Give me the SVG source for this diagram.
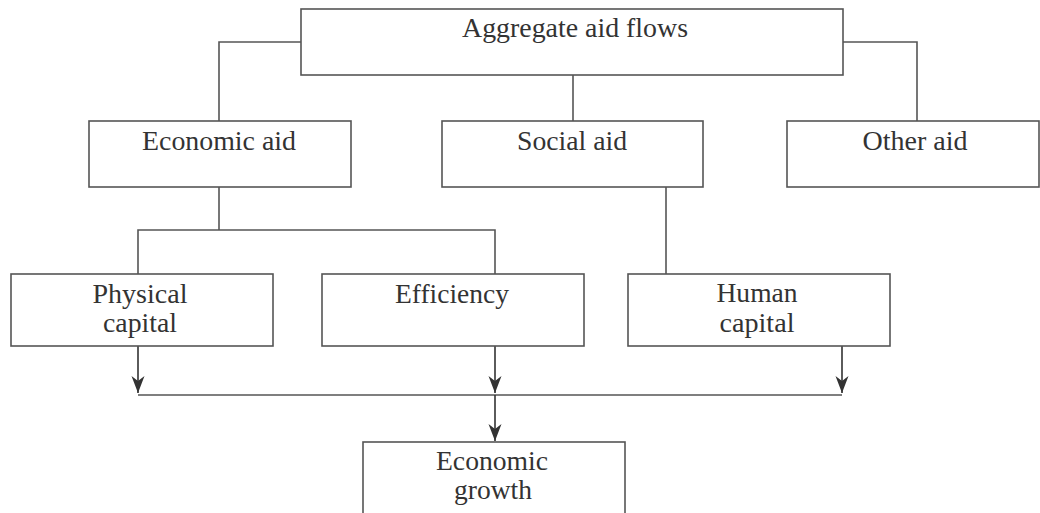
<svg xmlns="http://www.w3.org/2000/svg" width="1040" height="513" viewBox="0 0 1040 513">
<defs>
<style>
.box{fill:#fff;stroke:#555;stroke-width:1.6}
.t{font-family:"Liberation Serif",Tinos,"Times New Roman",serif;font-size:27px;fill:#333;text-anchor:middle}
.c{fill:none;stroke:#555;stroke-width:1.6}
.a{fill:none;stroke:#333;stroke-width:1.6;marker-end:url(#arr)}
</style>
<marker id="arr" viewBox="-1 -8 19 16" refX="17" refY="0" markerWidth="19" markerHeight="16" markerUnits="userSpaceOnUse" orient="auto">
<path d="M0,-6.5 L17,0 L0,6.5 L5,0 Z" fill="#333"/>
</marker>
</defs>
<rect width="1040" height="513" fill="#fff"/>
<g id="connectors">
<polyline class="c" points="301,42 219,42 219,121"/>
<polyline class="c" points="843,42 917,42 917,121"/>
<line class="c" x1="573" y1="75" x2="573" y2="121"/>
<line class="c" x1="219" y1="187" x2="219" y2="230"/>
<polyline class="c" points="138,274 138,230 495,230 495,274"/>
<line class="c" x1="666" y1="187" x2="666" y2="274"/>
<line class="a" x1="138" y1="346" x2="138" y2="393"/>
<line class="a" x1="495" y1="346" x2="495" y2="393"/>
<line class="a" x1="842" y1="346" x2="842" y2="393"/>
<line class="c" x1="138" y1="395" x2="842" y2="395"/>
<line class="a" x1="495" y1="395" x2="495" y2="441"/>
</g>
<g id="aggregate">
<rect class="box" x="301" y="9" width="542" height="66"/>
<text class="t" x="575" y="37" textLength="226" lengthAdjust="spacingAndGlyphs">Aggregate aid flows</text>
</g>
<g id="economic-aid">
<rect class="box" x="89" y="121" width="262" height="66"/>
<text class="t" x="219" y="150" textLength="154" lengthAdjust="spacingAndGlyphs">Economic aid</text>
</g>
<g id="social-aid">
<rect class="box" x="442" y="121" width="261" height="66"/>
<text class="t" x="572" y="150" textLength="110" lengthAdjust="spacingAndGlyphs">Social aid</text>
</g>
<g id="other-aid">
<rect class="box" x="787" y="121" width="252" height="66"/>
<text class="t" x="915" y="150" textLength="105" lengthAdjust="spacingAndGlyphs">Other aid</text>
</g>
<g id="physical-capital">
<rect class="box" x="11" y="274" width="262" height="72"/>
<text class="t" x="140" y="303" textLength="95" lengthAdjust="spacingAndGlyphs">Physical</text>
<text class="t" x="140" y="332" textLength="74" lengthAdjust="spacingAndGlyphs">capital</text>
</g>
<g id="efficiency">
<rect class="box" x="322" y="274" width="262" height="72"/>
<text class="t" x="452" y="303" textLength="114" lengthAdjust="spacingAndGlyphs">Efficiency</text>
</g>
<g id="human-capital">
<rect class="box" x="628" y="274" width="262" height="72"/>
<text class="t" x="757" y="302" textLength="81" lengthAdjust="spacingAndGlyphs">Human</text>
<text class="t" x="757" y="332" textLength="75" lengthAdjust="spacingAndGlyphs">capital</text>
</g>
<g id="economic-growth">
<rect class="box" x="363" y="442" width="262" height="90"/>
<text class="t" x="492" y="470" textLength="112" lengthAdjust="spacingAndGlyphs">Economic</text>
<text class="t" x="493" y="499" textLength="78" lengthAdjust="spacingAndGlyphs">growth</text>
</g>
</svg>
